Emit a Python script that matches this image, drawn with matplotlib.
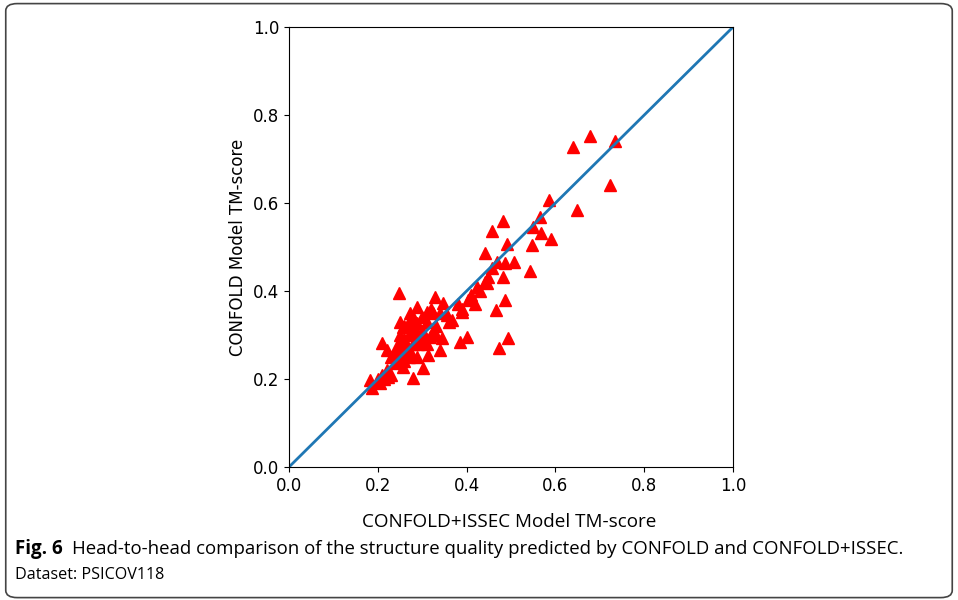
import numpy as np
import matplotlib
matplotlib.use("Agg")
import matplotlib.pyplot as plt
from matplotlib.patches import FancyBboxPatch

# TM-scores: x = CONFOLD+ISSEC, y = CONFOLD
issec = [0.678, 0.640, 0.734, 0.723, 0.649, 0.586, 0.590, 0.565, 0.550, 0.568,
         0.547, 0.543, 0.482, 0.457, 0.491, 0.441, 0.507, 0.486, 0.468, 0.457,
         0.482, 0.448, 0.446, 0.423, 0.441, 0.403, 0.419, 0.390, 0.367, 0.486,
         0.466, 0.493, 0.473, 0.329, 0.347, 0.288, 0.311, 0.324, 0.401, 0.385,
         0.345, 0.340, 0.313, 0.288, 0.302, 0.279, 0.288, 0.302, 0.318, 0.300,
         0.330, 0.360, 0.380, 0.410, 0.430, 0.390, 0.248, 0.273, 0.257, 0.277,
         0.209, 0.221, 0.243, 0.266, 0.182, 0.223, 0.205, 0.239, 0.257, 0.187,
         0.215, 0.230, 0.250, 0.260, 0.270, 0.250, 0.240, 0.260, 0.270, 0.280,
         0.290, 0.300, 0.310, 0.250, 0.260, 0.270, 0.280, 0.290, 0.240, 0.230,
         0.220, 0.210, 0.200, 0.260, 0.275, 0.300, 0.310, 0.320, 0.330, 0.340,
         0.355, 0.300, 0.320, 0.280, 0.250]
confold = [0.752, 0.727, 0.741, 0.641, 0.584, 0.607, 0.518, 0.568, 0.545, 0.532,
           0.505, 0.445, 0.559, 0.536, 0.507, 0.486, 0.466, 0.464, 0.466, 0.452,
           0.432, 0.432, 0.419, 0.409, 0.420, 0.380, 0.370, 0.352, 0.334, 0.380,
           0.357, 0.293, 0.270, 0.386, 0.373, 0.364, 0.352, 0.350, 0.295, 0.284,
           0.293, 0.266, 0.255, 0.250, 0.225, 0.202, 0.327, 0.307, 0.295, 0.285,
           0.300, 0.330, 0.370, 0.390, 0.400, 0.360, 0.395, 0.350, 0.318, 0.311,
           0.282, 0.266, 0.275, 0.270, 0.198, 0.205, 0.191, 0.236, 0.227, 0.180,
           0.200, 0.210, 0.250, 0.290, 0.300, 0.280, 0.260, 0.260, 0.250, 0.280,
           0.300, 0.310, 0.330, 0.300, 0.320, 0.330, 0.320, 0.280, 0.240, 0.250,
           0.220, 0.210, 0.200, 0.240, 0.260, 0.290, 0.280, 0.300, 0.320, 0.350,
           0.345, 0.340, 0.360, 0.340, 0.330]
ticks = [0.0, 0.2, 0.4, 0.6, 0.8, 1.0]

plt.rcParams['font.family'] = 'DejaVu Sans'

fig = plt.figure(figsize=(9.58, 6.0), dpi=100)
ax = fig.add_axes([0.3017, 0.2217, 0.4635, 0.7333])

ax.plot(issec, confold, '^', color='red', markersize=8)
ax.plot([0, 1], [0, 1], color='#1f77b4', linewidth=2)

ax.set_xlim(0, 1)
ax.set_ylim(0, 1)
ax.set_xticks(ticks)
ax.set_yticks(ticks)
ax.tick_params(labelsize=12)
ax.set_ylabel('CONFOLD Model TM-score', fontsize=12)

# the x label and caption come from the journal layout, different font
fig.text(0.532, 0.13, 'CONFOLD+ISSEC Model TM-score', ha='center', va='center',
         fontsize=13.6, family='Open Sans')
fig.text(0.016, 0.085, 'Fig. 6', ha='left', va='center', fontsize=13.5,
         family='Open Sans', weight='bold')
fig.text(0.075, 0.085,
         'Head-to-head comparison of the structure quality predicted by CONFOLD and CONFOLD+ISSEC.',
         ha='left', va='center', fontsize=13.4, family='Open Sans')
fig.text(0.016, 0.041, 'Dataset: PSICOV118', ha='left', va='center',
         fontsize=11.6, family='Open Sans')

# rounded frame around the figure
frame = FancyBboxPatch((0.006, 0.004), 0.988, 0.99,
                       boxstyle='round,pad=0,rounding_size=0.012',
                       transform=fig.transFigure, fill=False,
                       edgecolor='#444444', linewidth=1.2)
fig.patches.append(frame)

fig.savefig('out.png', dpi=100)
